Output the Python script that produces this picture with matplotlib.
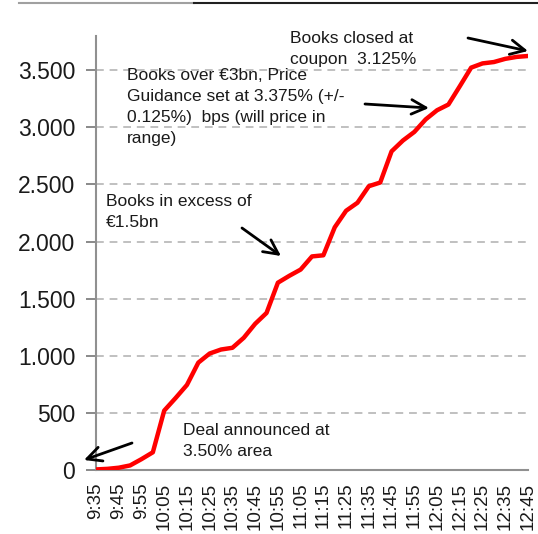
import matplotlib
matplotlib.use("Agg")
import matplotlib.pyplot as plt
from matplotlib.ticker import FuncFormatter, FixedLocator

# order book build-up, every 5 minutes
times = ["9:35", "9:40", "9:45", "9:50", "9:55", "10:00", "10:05", "10:10",
         "10:15", "10:20", "10:25", "10:30", "10:35", "10:40", "10:45", "10:50",
         "10:55", "11:00", "11:05", "11:10", "11:15", "11:20", "11:25", "11:30",
         "11:35", "11:40", "11:45", "11:50", "11:55", "12:00", "12:05", "12:10",
         "12:15", "12:20", "12:25", "12:30", "12:35", "12:40", "12:45"]
book = [5, 10, 20, 40, 95, 155, 520, 630, 745, 940, 1020, 1055, 1070, 1158,
        1280, 1375, 1640, 1700, 1755, 1870, 1880, 2125, 2270, 2340, 2485,
        2517, 2790, 2885, 2960, 3070, 3150, 3200, 3360, 3523, 3560, 3572,
        3600, 3617, 3625]

notes = [
    "Books closed at\ncoupon  3.125%",
    "Books over €3bn, Price\nGuidance set at 3.375% (+/-\n0.125%)  bps (will price in\nrange)",
    "Books in excess of\n€1.5bn",
    "Deal announced at\n3.50% area",
]

plt.rcParams["font.family"] = ["Liberation Sans", "DejaVu Sans"]
TXT = "#1a1a1a"

W, H = 538, 534
fig = plt.figure(figsize=(W / 100, H / 100), dpi=100)

# axes box in pixels (from top-left)
L, R, T, B = 96, 528, 36, 470
ax = fig.add_axes([L / W, 1 - B / H, (R - L) / W, (B - T) / H])


def px(x, y):
    """pixel position (top-left origin) -> axes fraction"""
    return ((x - L) / (R - L), (B - y) / (B - T))


x = list(range(len(times)))
ax.plot(x, book, color="#ff0000", lw=3.2, solid_joinstyle="round", zorder=3)

ax.set_xlim(0, len(times) - 1)
ax.set_ylim(0, 3800)
ax.set_yticks(range(0, 3501, 500))
ax.yaxis.set_major_formatter(FuncFormatter(lambda v, p: f"{int(v):,}".replace(",", ".")))
ax.grid(axis="y", color="#c0c0c0", ls=(0, (4, 3)), lw=1.4, zorder=1)

ax.set_xticks(x[::2])
ax.set_xticklabels(times[::2], rotation=90, fontsize=13.5, color=TXT)
ax.xaxis.set_minor_locator(FixedLocator([0, 10, 20, 30]))
ax.tick_params(axis="x", which="major", length=0, pad=9)
ax.tick_params(axis="x", which="minor", length=4, width=1.3, color="#808080")
ax.tick_params(axis="y", length=7, width=1.3, color="#808080", labelsize=16.5,
               labelcolor=TXT, pad=8)

for s in ["top", "right"]:
    ax.spines[s].set_visible(False)
for s in ["left", "bottom"]:
    ax.spines[s].set_color("#909090")
    ax.spines[s].set_linewidth(1.5)

# annotations
text_pos = [(290, 31), (127, 68), (106, 194), (183, 423)]
for (tx, ty), s in zip(text_pos, notes):
    ax.text(*px(tx, ty), s, transform=ax.transAxes, ha="left", va="top",
            fontsize=12.5, color=TXT, linespacing=1.5, zorder=4)

arrows = [((468, 38), (528, 51)), ((365, 104), (429, 108)),
          ((242, 228), (281, 256)), ((132, 443), (84, 460))]
for tail, head in arrows:
    ax.annotate("", xy=px(*head), xytext=px(*tail), xycoords="axes fraction",
                textcoords="axes fraction", annotation_clip=False,
                arrowprops=dict(arrowstyle="->", color="black", lw=2,
                                mutation_scale=26, shrinkA=0, shrinkB=0))

# rule of the page above the chart
fig.add_artist(plt.Line2D([19 / W, 194 / W], [1 - 3 / H] * 2, color="#a0a0a0", lw=1.5))
fig.add_artist(plt.Line2D([194 / W, 1.0], [1 - 3 / H] * 2, color="#202020", lw=1.5))

fig.savefig("out.png", dpi=100)
